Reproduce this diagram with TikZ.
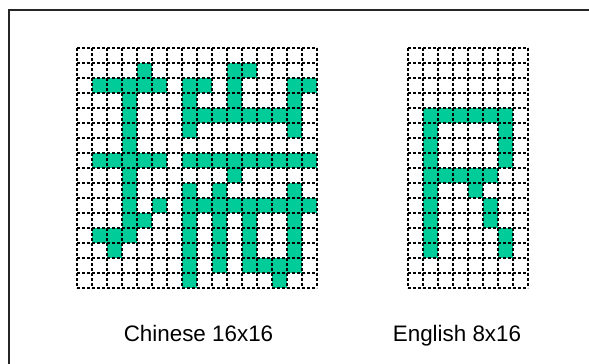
\documentclass[tikz,border=0pt]{standalone}
\usepackage{fontspec}
\setmainfont{Liberation Sans}
\definecolor{pix}{RGB}{0,204,153}
\begin{document}
\begin{tikzpicture}[x=0.75pt,y=-0.75pt,
  dotline/.style={line width=2.1pt,dash pattern=on 2.1pt off 1.65pt,black},
  frameline/.style={line width=1.1pt,black!85},
  lbl/.style={font=\fontsize{16.8}{20}\selectfont,anchor=base,inner sep=0pt}]
\useasboundingbox (0,0) rectangle (589,364);
% outer frame (partly cropped)
\draw[frameline] (9,364) -- (9,10) -- (589,10);
% Chinese 16x16 bitmap
\foreach \c/\r in {4/1,10/1,11/1,
  1/2,2/2,3/2,4/2,5/2,7/2,8/2,10/2,14/2,15/2,
  3/3,7/3,10/3,14/3,
  3/4,7/4,8/4,9/4,10/4,11/4,12/4,13/4,14/4,
  3/5,7/5,14/5,
  3/6,
  1/7,2/7,3/7,4/7,5/7,7/7,8/7,9/7,10/7,11/7,12/7,13/7,14/7,15/7,
  3/8,10/8,
  3/9,7/9,9/9,14/9,
  3/10,5/10,7/10,8/10,9/10,10/10,11/10,12/10,13/10,14/10,15/10,
  3/11,4/11,7/11,9/11,11/11,14/11,
  1/12,2/12,3/12,7/12,9/12,11/12,14/12,
  2/13,7/13,9/13,11/13,14/13,
  7/14,9/14,11/14,12/14,13/14,14/14,
  7/15,13/15}
  \fill[pix] (77+15*\c,48+15*\r) rectangle ++(15,15);
\foreach \k in {0,...,16} {
  \draw[dotline] (77+15*\k,48) -- ++(0,240);
  \draw[dotline] (77,48+15*\k) -- ++(240,0);
}
% English 8x16 bitmap
\foreach \c/\r in {1/4,2/4,3/4,4/4,5/4,6/4,
  1/5,6/5,1/6,6/6,1/7,6/7,
  1/8,2/8,3/8,4/8,5/8,
  1/9,4/9,1/10,5/10,1/11,5/11,1/12,6/12,1/13,6/13}
  \fill[pix] (408+15*\c,48+15*\r) rectangle ++(15,15);
\foreach \k in {0,...,8}
  \draw[dotline] (408+15*\k,48) -- ++(0,240);
\foreach \k in {0,...,16}
  \draw[dotline] (408,48+15*\k) -- ++(120,0);
% labels
\node[lbl] (lblcn) at (198.5,341) {Chinese 16x16};
\node[lbl] (lblen) at (457,341) {English 8x16};
\end{tikzpicture}
\end{document}
